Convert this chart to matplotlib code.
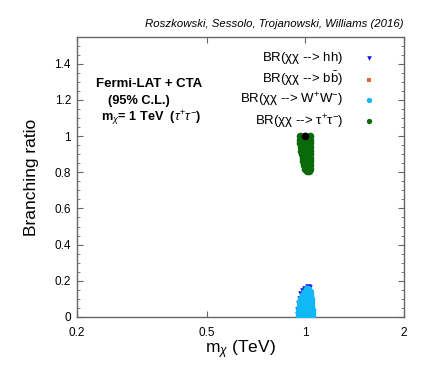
import matplotlib
matplotlib.use("Agg")
import matplotlib.pyplot as plt
from matplotlib.ticker import FixedLocator, FixedFormatter, MultipleLocator, NullLocator

plt.rcParams['font.family'] = ['Liberation Sans', 'DejaVu Sans']
plt.rcParams['mathtext.fontset'] = 'custom'
plt.rcParams['mathtext.rm'] = 'Liberation Sans'
plt.rcParams['mathtext.it'] = 'Liberation Sans:italic'
plt.rcParams['mathtext.bf'] = 'Liberation Sans:bold'

# ---- data ----
# tau+tau- branching ratio cloud
tau_m = [0.96, 0.995, 1.03,
         0.962, 0.995, 1.03,
         0.965, 0.997, 1.032,
         0.968, 1.0, 1.033,
         0.972, 1.002, 1.034,
         0.976, 1.005, 1.035,
         0.98, 1.008, 1.036,
         0.985, 1.01, 1.036,
         0.99, 1.013, 1.036,
         0.998, 1.018, 1.035,
         1.01, 1.025]
tau_br = [1.00, 1.00, 1.00,
          0.98, 0.98, 0.98,
          0.96, 0.96, 0.96,
          0.94, 0.94, 0.94,
          0.92, 0.92, 0.92,
          0.90, 0.90, 0.90,
          0.88, 0.88, 0.88,
          0.86, 0.86, 0.86,
          0.84, 0.84, 0.84,
          0.82, 0.82, 0.82,
          0.807, 0.807]

# hh branching ratio (edge points visible)
hh_m = [0.95, 0.952, 0.955, 0.96, 0.97, 0.985, 1.0, 1.015, 1.025]
hh_br = [0.01, 0.04, 0.07, 0.10, 0.125, 0.145, 0.155, 0.165, 0.16]

# b bbar branching ratio (edge points visible)
bb_m = [1.05, 1.048, 1.045, 1.043, 1.04]
bb_br = [0.02, 0.05, 0.08, 0.11, 0.13]

# W+W- branching ratio cloud
ww_m = [0.955, 0.985, 1.015, 1.045,
        0.955, 0.985, 1.015, 1.045,
        0.957, 0.985, 1.015, 1.045,
        0.96, 0.99, 1.015, 1.043,
        0.965, 0.99, 1.015, 1.04,
        0.97, 1.0, 1.04,
        0.98, 1.005, 1.035,
        0.995, 1.03,
        1.01, 1.02]
ww_br = [0.005, 0.005, 0.005, 0.005,
         0.02, 0.02, 0.02, 0.02,
         0.04, 0.04, 0.04, 0.04,
         0.06, 0.06, 0.06, 0.06,
         0.08, 0.08, 0.08, 0.08,
         0.10, 0.10, 0.10,
         0.12, 0.12, 0.12,
         0.14, 0.14,
         0.155, 0.155]

# benchmark point
bench_m = [0.998]
bench_br = [1.0]

x_ticks = [0.2, 0.5, 1, 2]
x_ticklabels = ['0.2', '0.5', '1', '2']
y_ticks = [0, 0.2, 0.4, 0.6, 0.8, 1.0, 1.2, 1.4]
y_ticklabels = ['0', '0.2', '0.4', '0.6', '0.8', '1', '1.2', '1.4']

# ---- figure ----
fig = plt.figure(figsize=(4.23, 3.72), dpi=100)
ax = fig.add_axes([0.181, 0.148, 0.774, 0.7525])

ax.scatter(hh_m, hh_br, marker='v', s=22, color='#1010ee', linewidths=0, zorder=2,
           label=r'BR($\mathrm{\chi\chi}$ --> hh)')
ax.scatter(bb_m, bb_br, marker='s', s=14, color='#e06a2a', linewidths=0, zorder=2,
           label=r'BR($\mathrm{\chi\chi}$ --> b$\bar{\mathrm{b}}$)')
ax.scatter(ww_m, ww_br, marker='o', s=30, color='#10b8f4', linewidths=0, zorder=3,
           label=r'BR($\mathrm{\chi\chi}$ --> W$^{+}$W$^{-}$)')
ax.scatter(tau_m, tau_br, marker='o', s=30, color='#0a6a0a', linewidths=0, zorder=3,
           label=r'BR($\mathrm{\chi\chi}$ --> $\mathrm{\tau}^{+}\mathrm{\tau}^{-}$)')
ax.scatter(bench_m, bench_br, marker='o', s=30, color='black', linewidths=0, zorder=4)

ax.set_xscale('log')
ax.set_xlim(0.2, 2)
ax.set_ylim(0, 1.548)
ax.xaxis.set_major_locator(FixedLocator(x_ticks))
ax.xaxis.set_major_formatter(FixedFormatter(x_ticklabels))
ax.xaxis.set_minor_locator(NullLocator())
ax.yaxis.set_major_locator(FixedLocator(y_ticks))
ax.yaxis.set_major_formatter(FixedFormatter(y_ticklabels))
ax.yaxis.set_minor_locator(MultipleLocator(0.05))

spine_col = '#666666'
for sp in ax.spines.values():
    sp.set_color(spine_col)
    sp.set_linewidth(1.0)
ax.tick_params(which='both', direction='in', top=True, right=True, color=spine_col,
               labelsize=8.5, labelcolor='black')
ax.tick_params(which='major', length=4, width=0.8, pad=4)
ax.tick_params(axis='x', which='major', pad=7)
ax.tick_params(which='minor', length=2.5, width=0.6)

ax.set_xlabel(r'm$_\chi$ (TeV)', fontsize=12.5, labelpad=0)
ax.set_ylabel('Branching ratio', fontsize=12.5, labelpad=11)

ax.set_title('Roszkowski, Sessolo, Trojanowski, Williams (2016)', fontsize=8.2,
             style='italic', loc='right', pad=7)

ax.text(0.222, 0.832, 'Fermi-LAT + CTA', transform=ax.transAxes, ha='center',
        va='center', fontsize=9.5, fontweight='bold')
ax.text(0.19, 0.772, '(95% C.L.)', transform=ax.transAxes, ha='center',
        va='center', fontsize=9.2, fontweight='bold')
ax.text(0.228, 0.708, r'm$_\chi$= 1 TeV  ($\tau^{+}\tau^{-}$)', transform=ax.transAxes,
        ha='center', va='center', fontsize=9.2, fontweight='bold')

leg = ax.legend(loc='upper right', bbox_to_anchor=(0.937, 0.99), frameon=False,
                markerfirst=False, fontsize=9.5, handlelength=0.6, handletextpad=1.65,
                labelspacing=0.24, markerscale=0.7, borderpad=0.3)

fig.savefig('out.png', dpi=100)
